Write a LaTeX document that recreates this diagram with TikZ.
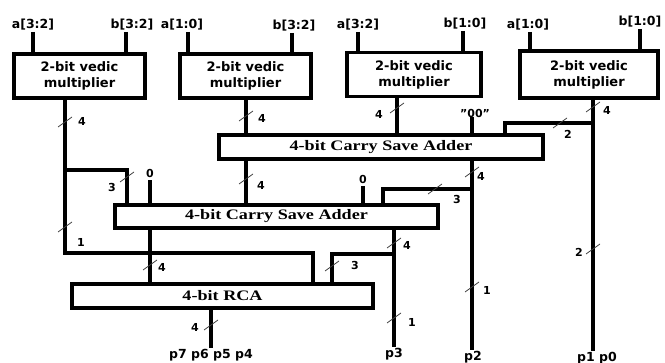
\documentclass[tikz,border=0pt]{standalone}
\usepackage{fontspec}
\usepackage{graphicx}
\setsansfont{DejaVu Sans}
\newfontfamily\addfont{Liberation Serif}
\usetikzlibrary{calc}
\tikzset{
  wire/.style={line width=3.6pt},
  mulbox/.style={draw,line width=3.6pt,minimum width=131pt,minimum height=44pt,
    align=center,inner sep=0pt,font=\sffamily\bfseries\fontsize{13}{16}\selectfont},
  addbox/.style={draw,line width=3.6pt,minimum height=24pt,inner sep=0pt,
    font=\addfont\bfseries\fontsize{14.5}{15}\selectfont},
  pinlabel/.style={font=\sffamily\bfseries\fontsize{12.5}{13}\selectfont,inner sep=1pt},
  bitlabel/.style={font=\sffamily\bfseries\fontsize{11}{11}\selectfont,inner sep=0pt},
  tickmark/.style={line width=0.8pt,black!75},
}
% bus width mark: name, point on wire, label position, width
\newcommand{\busmark}[4]{%
  \coordinate (#1) at (#2);
  \draw[tickmark] ($(#1)+(-7,5)$) -- ($(#1)+(7,-5)$);
  \node[bitlabel] (#1l) at (#3) {#4};
}
\begin{document}
\begin{tikzpicture}[x=1pt,y=-1pt]
  \useasboundingbox (0,0) rectangle (665,363);

  % 2-bit vedic multipliers
  \node[mulbox] (mulA) at (79.5,76) {2-bit vedic\\multiplier};
  \node[mulbox] (mulB) at (245.5,76) {2-bit vedic\\multiplier};
  \node[mulbox,minimum width=134pt] (mulC) at (414,74.5) {2-bit vedic\\multiplier};
  \node[mulbox,minimum width=138pt,minimum height=47pt] (mulD) at (589,74.5) {2-bit vedic\\multiplier};

  % adders
  \node[addbox,minimum width=324pt] (csaTop) at (381,147) {\scalebox{1.25}[1]{4-bit Carry Save Adder}};
  \node[addbox,minimum width=323pt,minimum height=23pt] (csaBot) at (276.5,216.5) {\scalebox{1.25}[1]{4-bit Carry Save Adder}};
  \node[addbox,minimum width=301pt] (rca) at (222.5,296) {\scalebox{1.25}[1]{4-bit RCA}};

  % operand inputs
  \node[pinlabel] (aHiA) at (33,25) {a[3:2]};
  \node[pinlabel] (bHiA) at (132,25) {b[3:2]};
  \node[pinlabel] (aLoB) at (182,25) {a[1:0]};
  \node[pinlabel] (bHiB) at (294,26) {b[3:2]};
  \node[pinlabel] (aHiC) at (358,25) {a[3:2]};
  \node[pinlabel] (bLoC) at (465,24) {b[1:0]};
  \node[pinlabel] (aLoD) at (528,25) {a[1:0]};
  \node[pinlabel] (bLoD) at (640,22) {b[1:0]};
  \draw[wire] (aHiA.south) -- (aHiA.south |- mulA.north);
  \draw[wire] ([xshift=-6pt]bHiA.south) -- ([xshift=-6pt]bHiA.south |- mulA.north);
  \draw[wire] ([xshift=6pt]aLoB.south) -- ([xshift=6pt]aLoB.south |- mulB.north);
  \draw[wire] ([xshift=-2pt]bHiB.south) -- ([xshift=-2pt]bHiB.south |- mulB.north);
  \draw[wire] (aHiC.south) -- (aHiC.south |- mulC.north);
  \draw[wire] ([xshift=-2pt]bLoC.south) -- ([xshift=-2pt]bLoC.south |- mulC.north);
  \draw[wire] ([xshift=2pt]aLoD.south) -- ([xshift=2pt]aLoD.south |- mulD.north);
  \draw[wire] (bLoD.south) -- (bLoD.south |- mulD.north);

  % outputs
  \node[pinlabel] (pHi) at (211,355) {p7 p6 p5 p4};
  \node[pinlabel] (pThree) at (394,354) {p3};
  \node[pinlabel] (pTwo) at (473,357) {p2};
  \node[pinlabel] (pLo) at (597,358) {p1 p0};

  % constant inputs
  \node[bitlabel] (zeroTop) at (475,113) {"00"};
  \node[bitlabel] (zeroA) at (150,173) {0};
  \node[bitlabel] (zeroB) at (363,179) {0};

  % wire columns and junctions
  \coordinate (xMa) at (65,0);
  \coordinate (xMb) at (246,0);
  \coordinate (xMc) at (397,0);
  \coordinate (xMd) at (593,0);
  \coordinate (xCa) at (127,0);
  \coordinate (xCb) at (150,0);
  \coordinate (xCc) at (363,0);
  \coordinate (xCd) at (383,0);
  \coordinate (xSa) at (472,0);
  \coordinate (xSb) at (505,0);
  \coordinate (xSc) at (394,0);
  \coordinate (xRa) at (313,0);
  \coordinate (xRb) at (332,0);
  \coordinate (xRo) at (211,0);
  \coordinate (jMa) at (65,170);
  \coordinate (jMb) at (65,253);
  \coordinate (jMd) at (593,123);
  \coordinate (jSa) at (472,189);
  \coordinate (jSc) at (394,254);

  \draw[wire] (mulA.south -| xMa) -- (jMa) -| (csaBot.north -| xCa);
  \draw[wire] (jMa) -- (jMb) -| (rca.north -| xRa);
  \draw[wire] (mulB.south -| xMb) -- (csaTop.north -| xMb);
  \draw[wire] (mulC.south -| xMc) -- (csaTop.north -| xMc);
  \draw[wire] (zeroTop.south -| xSa) -- (csaTop.north -| xSa);
  \draw[wire] (mulD.south -| xMd) -- (pLo.north -| xMd);
  \draw[wire] (jMd) -| (csaTop.north -| xSb);
  \draw[wire] (csaTop.south -| xMb) -- (csaBot.north -| xMb);
  \draw[wire] (csaTop.south -| xSa) -- (pTwo.north -| xSa);
  \draw[wire] (jSa) -| (csaBot.north -| xCd);
  \draw[wire] ([yshift=-3pt]zeroA.south) -- (csaBot.north -| xCb);
  \draw[wire] ([yshift=-3pt]zeroB.south) -- (csaBot.north -| xCc);
  \draw[wire] (csaBot.south -| xCb) -- (rca.north -| xCb);
  \draw[wire] (csaBot.south -| xSc) -- (pThree.north -| xSc);
  \draw[wire] (jSc) -| (rca.north -| xRb);
  \draw[wire] (rca.south -| xRo) -- (pHi.north -| xRo);

  % bus widths
  \busmark{wMa}{65,122}{82,121}{4}
  \busmark{wMb}{246,116}{262,118}{4}
  \busmark{wMc}{397,108}{379,114}{4}
  \busmark{wMd}{593,107}{607,110}{4}
  \busmark{wMe}{560,123}{568,134}{2}
  \busmark{wCa}{127,177}{112,187}{3}
  \busmark{wSa}{246,179}{261,185}{4}
  \busmark{wSb}{472,172}{481,176}{4}
  \busmark{wSc}{435,189}{457,199}{3}
  \busmark{wMf}{65,227}{81,242}{1}
  \busmark{wCb}{150,265}{162,267}{4}
  \busmark{wSd}{394,243}{407,245}{4}
  \busmark{wSe}{332,266}{355,265}{3}
  \busmark{wMg}{593,249}{579,252}{2}
  \busmark{wSf}{472,287}{487,290}{1}
  \busmark{wSg}{394,318}{412,322}{1}
  \busmark{wRo}{211,325}{195,327}{4}
\end{tikzpicture}
\end{document}
